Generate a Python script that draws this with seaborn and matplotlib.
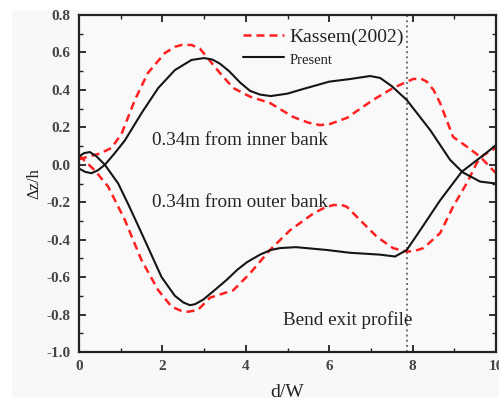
import matplotlib
matplotlib.use("Agg")
import matplotlib.pyplot as plt
from matplotlib.lines import Line2D
from matplotlib.patches import Rectangle
from matplotlib.ticker import MultipleLocator
import seaborn as sns
import pandas as pd

# ---- data ----
present_inner_d = [0, 0.15, 0.3, 0.45, 0.62, 0.85, 1.1, 1.5, 1.9, 2.3, 2.7, 3.0, 3.2, 3.38, 3.6,
                   3.86, 4.1, 4.34, 4.6, 5.0, 5.3, 6.0, 6.5, 6.98, 7.22, 7.5, 7.86, 8.42, 8.9,
                   9.2, 9.62, 10]
present_inner_v = [-0.02, -0.038, -0.045, -0.03, 0.0, 0.06, 0.13, 0.276, 0.41, 0.506, 0.56, 0.57,
                   0.562, 0.54, 0.50, 0.44, 0.395, 0.375, 0.367, 0.38, 0.40, 0.444, 0.458, 0.474,
                   0.464, 0.42, 0.346, 0.186, 0.026, -0.04, -0.09, -0.10]

present_outer_d = [0, 0.12, 0.26, 0.42, 0.62, 0.94, 1.2, 1.5, 1.98, 2.3, 2.5, 2.66, 2.78, 2.98,
                   3.25, 3.54, 3.8, 4.03, 4.34, 4.6, 4.82, 5.2, 5.94, 6.5, 7.22, 7.58, 7.86, 8.18,
                   8.66, 9.18, 9.69, 10]
present_outer_v = [0.045, 0.062, 0.068, 0.045, 0.0, -0.1, -0.22, -0.365, -0.6, -0.70, -0.735,
                   -0.75, -0.745, -0.72, -0.67, -0.615, -0.56, -0.52, -0.48, -0.455, -0.445, -0.44,
                   -0.455, -0.47, -0.48, -0.49, -0.455, -0.35, -0.19, -0.037, 0.05, 0.105]

kassem_inner_d = [0, 0.25, 0.5, 0.78, 1.02, 1.34, 1.65, 2.06, 2.3, 2.46, 2.7, 2.9, 3.06, 3.38,
                  3.7, 4.1, 4.58, 5.13, 5.5, 5.78, 6.02, 6.42, 7.05, 7.53, 8.01, 8.2, 8.34, 8.5,
                  8.66, 8.97, 9.3, 9.62, 10]
kassem_inner_v = [0.03, 0.045, 0.06, 0.09, 0.165, 0.346, 0.49, 0.597, 0.63, 0.64, 0.64, 0.62,
                  0.577, 0.49, 0.41, 0.364, 0.33, 0.256, 0.225, 0.212, 0.218, 0.25, 0.346, 0.41,
                  0.458, 0.46, 0.444, 0.40, 0.33, 0.149, 0.097, 0.043, -0.045]

kassem_outer_d = [0, 0.38, 0.7, 1.1, 1.5, 1.9, 2.22, 2.45, 2.61, 2.85, 3.14, 3.7, 4.1, 4.58,
                  5.06, 5.62, 5.9, 6.1, 6.3, 6.42, 6.74, 7.14, 7.53, 7.86, 8.05, 8.26, 8.66, 8.97,
                  9.3, 9.54, 9.69, 10]
kassem_outer_v = [0.05, -0.03, -0.117, -0.295, -0.51, -0.67, -0.758, -0.78, -0.785, -0.776,
                  -0.71, -0.67, -0.58, -0.455, -0.35, -0.26, -0.228, -0.215, -0.215, -0.224,
                  -0.295, -0.384, -0.445, -0.464, -0.46, -0.445, -0.365, -0.224, -0.098, 0.01,
                  0.05, 0.09]

bend_exit_d = 7.86
x_ticks = [0, 2, 4, 6, 8, 10]
y_ticks = [-1.0, -0.8, -0.6, -0.4, -0.2, 0.0, 0.2, 0.4, 0.6, 0.8]

# ---- style ----
sns.set_theme(style="ticks")
plt.rcParams["font.family"] = ["Liberation Serif", "DejaVu Serif"]

fig = plt.figure(figsize=(4.99, 4.01), dpi=100, facecolor="white")
fig.patches.append(Rectangle((12 / 499, 3 / 401), 1 - 12 / 499, (398 - 10) / 401,
                             transform=fig.transFigure, facecolor="#f8f8f8",
                             edgecolor="none", zorder=-10))
ax = fig.add_axes([79 / 499, (401 - 352) / 401, (496 - 79) / 499, (352 - 15) / 401])
ax.set_facecolor("#f9f9f9")

red_kw = dict(color="#ff2020", linewidth=1.8, dashes=(3.2, 2.0))
blk_kw = dict(color="#151515", linewidth=1.5)

for d, v, kw in [(kassem_inner_d, kassem_inner_v, red_kw),
                 (kassem_outer_d, kassem_outer_v, red_kw)]:
    df = pd.DataFrame({"d": d, "v": v})
    sns.lineplot(data=df, x="d", y="v", ax=ax, estimator=None, sort=False, **kw)
for d, v, kw in [(present_inner_d, present_inner_v, blk_kw),
                 (present_outer_d, present_outer_v, blk_kw)]:
    df = pd.DataFrame({"d": d, "v": v})
    sns.lineplot(data=df, x="d", y="v", ax=ax, estimator=None, sort=False, **kw)

ax.axvline(bend_exit_d, color="#707070", linestyle=":", linewidth=1.4, zorder=1)

ax.set_xlim(0, 10)
ax.set_ylim(-1.0, 0.8)
ax.set_xticks(x_ticks)
ax.set_yticks(y_ticks)
ax.set_xticklabels([str(t) for t in x_ticks])
ax.set_yticklabels([f"{t:.1f}" for t in y_ticks])
ax.xaxis.set_minor_locator(MultipleLocator(1))
ax.yaxis.set_minor_locator(MultipleLocator(0.1))
ax.tick_params(which="both", direction="in", top=True, right=True, color="#222222")
ax.tick_params(which="major", length=5, width=1.3, labelsize=11, labelcolor="#444444", pad=6)
ax.tick_params(which="minor", length=3, width=1.0)
for lab in ax.get_xticklabels() + ax.get_yticklabels():
    lab.set_fontweight("bold")
for sp in ax.spines.values():
    sp.set_linewidth(1.6)
    sp.set_color("#222222")
    sp.set_visible(True)

ax.set_xlabel("d/W", fontsize=14, color="#222222", labelpad=8)
ax.set_ylabel("Δz/h", fontsize=12, color="#222222", labelpad=3)

ax.text(1.75, 0.13, "0.34m from inner bank", fontsize=13.8, color="#222222", va="center")
ax.text(1.75, -0.2, "0.34m from outer bank", fontsize=13.8, color="#222222", va="center")
ax.text(4.9, -0.83, "Bend exit profile", fontsize=13.8, color="#222222", va="center")

handles = [Line2D([], [], **{k: v for k, v in red_kw.items()}),
           Line2D([], [], **blk_kw)]
leg = ax.legend(handles, ["Kassem(2002)", "Present"], loc="upper left",
                bbox_to_anchor=(0.365, 0.995), frameon=False, fontsize=14,
                handlelength=2.1, handletextpad=0.3, labelspacing=0.2,
                borderaxespad=0.2)
texts = leg.get_texts()
texts[0].set_color("#222222")
texts[1].set_fontsize(10.5)
texts[1].set_color("#222222")

fig.savefig("out.png", dpi=100, facecolor=fig.get_facecolor())
